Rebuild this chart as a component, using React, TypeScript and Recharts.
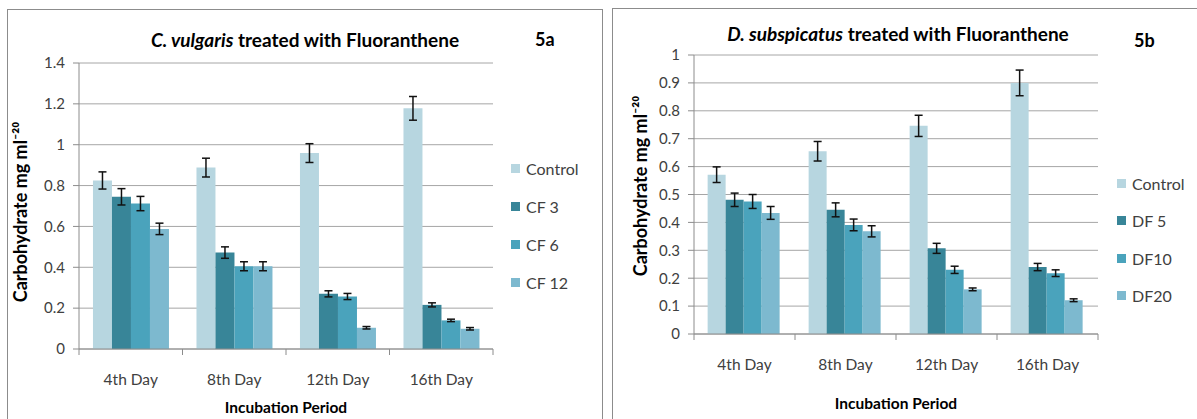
import React from "react";
import { BarChart, Bar, XAxis, YAxis, CartesianGrid, ErrorBar } from "recharts";

// categories
const days = ["4th Day", "8th Day", "12th Day", "16th Day"];

// 5a - C. vulgaris
const cvControl = [0.825, 0.888, 0.959, 1.178];
const cvCF3 = [0.745, 0.472, 0.27, 0.216];
const cvCF6 = [0.712, 0.405, 0.257, 0.14];
const cvCF12 = [0.588, 0.405, 0.104, 0.099];
const cvControlErr = [0.042, 0.046, 0.046, 0.058];
const cvCF3Err = [0.04, 0.028, 0.015, 0.01];
const cvCF6Err = [0.035, 0.022, 0.015, 0.006];
const cvCF12Err = [0.028, 0.022, 0.006, 0.006];
const cvTicks = [0, 0.2, 0.4, 0.6, 0.8, 1, 1.2, 1.4];

// 5b - D. subspicatus
const dsControl = [0.571, 0.655, 0.746, 0.9];
const dsDF5 = [0.481, 0.445, 0.307, 0.24];
const dsDF10 = [0.475, 0.391, 0.23, 0.218];
const dsDF20 = [0.434, 0.368, 0.16, 0.121];
const dsControlErr = [0.028, 0.035, 0.038, 0.046];
const dsDF5Err = [0.024, 0.025, 0.018, 0.013];
const dsDF10Err = [0.025, 0.021, 0.013, 0.012];
const dsDF20Err = [0.023, 0.02, 0.005, 0.005];
const dsTicks = [0, 0.1, 0.2, 0.3, 0.4, 0.5, 0.6, 0.7, 0.8, 0.9, 1];

const colors = ["#b7d6e0", "#388598", "#4aa3bc", "#7db9cf"];
const cvNames = ["Control", "CF 3", "CF 6", "CF 12"];
const dsNames = ["Control", "DF 5", "DF10", "DF20"];

const FONT = "Lato, 'Open Sans', sans-serif";
const GRID = "#a6a6a6";
const AXIS = "#8c8c8c";
const TEXT = "#404040";

function buildRows(series: number[][], errors: number[][]) {
  return days.map((day, i) => {
    const row: Record<string, string | number> = { day };
    series.forEach((s, k) => {
      row["s" + k] = s[i];
      row["e" + k] = errors[k][i];
    });
    return row;
  });
}

const cvData = buildRows([cvControl, cvCF3, cvCF6, cvCF12], [cvControlErr, cvCF3Err, cvCF6Err, cvCF12Err]);
const dsData = buildRows([dsControl, dsDF5, dsDF10, dsDF20], [dsControlErr, dsDF5Err, dsDF10Err, dsDF20Err]);

// category tick: label in the middle, small tick marks on the band edges (Excel style)
function CategoryTick(props: any) {
  const { x, y, payload, index, visibleTicksCount } = props;
  const half = payload && payload.offset ? payload.offset : 51;
  const last = index === visibleTicksCount - 1;
  return (
    <g>
      <line x1={x - half} x2={x - half} y1={y} y2={y + 6} stroke={AXIS} />
      {last && <line x1={x + half} x2={x + half} y1={y} y2={y + 6} stroke={AXIS} />}
      <text x={x} y={y + 36} textAnchor="middle" fontSize={15.5} fill={TEXT} fontFamily={FONT}>
        {payload.value}
      </text>
    </g>
  );
}

const fmt = (v: number) => String(Math.round(v * 10) / 10);

interface PanelProps {
  data: Record<string, string | number>[];
  ticks: number[];
  max: number;
  width: number;
  yWidth: number;
  margin: { top: number; right: number; bottom: number; left: number };
}

function Panel({ data, ticks, max, width, yWidth, margin }: PanelProps) {
  return (
    <BarChart width={width} height={419} data={data} margin={margin} barGap={0} barCategoryGap="13.5%">
      <CartesianGrid vertical={false} stroke={GRID} />
      <XAxis
        dataKey="day"
        height={30}
        stroke={AXIS}
        tickSize={0}
        tickMargin={0}
        tickLine={false}
        tick={<CategoryTick />}
        interval={0}
      />
      <YAxis
        width={yWidth}
        domain={[0, max]}
        ticks={ticks}
        tickFormatter={fmt}
        stroke={AXIS}
        tickSize={6}
        tickMargin={8}
        tick={{ fill: TEXT, fontSize: 15, fontFamily: FONT }}
      />
      {[0, 1, 2, 3].map((k) => (
        <Bar key={k} dataKey={"s" + k} fill={colors[k]} isAnimationActive={false}>
          <ErrorBar dataKey={"e" + k} width={4} stroke="#111" strokeWidth={1.5} />
        </Bar>
      ))}
    </BarChart>
  );
}

function Legend({ names, left, tops }: { names: string[]; left: number; tops: number[] }) {
  return (
    <>
      {names.map((n, i) => (
        <div
          key={n}
          style={{ position: "absolute", left, top: tops[i] - 10, height: 20, display: "flex", alignItems: "center", fontSize: 16, color: TEXT }}
        >
          <span style={{ width: 9, height: 9, background: colors[i], marginRight: 6, display: "inline-block" }} />
          {n}
        </div>
      ))}
    </>
  );
}

const abs = (style: React.CSSProperties): React.CSSProperties => ({ position: "absolute", ...style });

export default function App() {
  return (
    <div style={{ position: "fixed", left: 0, top: 0, width: 1197, height: 419, background: "#fff", overflow: "hidden", fontFamily: FONT }}>
      <div style={abs({ left: 7, top: 9, width: 594, height: 430, border: "1.5px solid #8c8c8c" })} />
      <div style={abs({ left: 612, top: 8, width: 600, height: 430, border: "1.5px solid #8c8c8c" })} />

      {/* 5a */}
      <div style={abs({ left: 0, top: 0 })}>
        <Panel data={cvData} ticks={cvTicks} max={1.4} width={602} yWidth={79} margin={{ top: 63, right: 109, bottom: 40, left: 0 }} />
      </div>
      <div style={abs({ left: 305, top: 39, transform: "translate(-50%, -50%)", fontSize: 19, fontWeight: 700, whiteSpace: "nowrap" })}>
        <i>C. vulgaris</i> treated with Fluoranthene
      </div>
      <div style={abs({ left: 535, top: 39, transform: "translateY(-50%)", fontSize: 18, fontWeight: 700 })}>5a</div>
      <div style={abs({ left: 20, top: 212, transform: "translate(-50%, -50%) rotate(-90deg)", fontSize: 18, fontWeight: 700, whiteSpace: "nowrap" })}>
        Carbohydrate mg ml⁻²⁰
      </div>
      <div style={abs({ left: 286, top: 407, transform: "translate(-50%, -50%)", fontSize: 15.5, fontWeight: 700, whiteSpace: "nowrap" })}>
        Incubation Period
      </div>
      <Legend names={cvNames} left={511} tops={[168, 206, 244, 282]} />

      {/* 5b */}
      <div style={abs({ left: 612, top: 0 })}>
        <Panel data={dsData} ticks={dsTicks} max={1} width={585} yWidth={82} margin={{ top: 55, right: 99, bottom: 55, left: 0 }} />
      </div>
      <div style={abs({ left: 898, top: 33, transform: "translate(-50%, -50%)", fontSize: 19, fontWeight: 700, whiteSpace: "nowrap" })}>
        <i>D. subspicatus</i> treated with Fluoranthene
      </div>
      <div style={abs({ left: 1134, top: 40, transform: "translateY(-50%)", fontSize: 18, fontWeight: 700 })}>5b</div>
      <div style={abs({ left: 640, top: 186, transform: "translate(-50%, -50%) rotate(-90deg)", fontSize: 18, fontWeight: 700, whiteSpace: "nowrap" })}>
        Carbohydrate mg ml⁻²⁰
      </div>
      <div style={abs({ left: 896, top: 403, transform: "translate(-50%, -50%)", fontSize: 15.5, fontWeight: 700, whiteSpace: "nowrap" })}>
        Incubation Period
      </div>
      <Legend names={dsNames} left={1117} tops={[183, 220, 258, 295]} />
    </div>
  );
}
